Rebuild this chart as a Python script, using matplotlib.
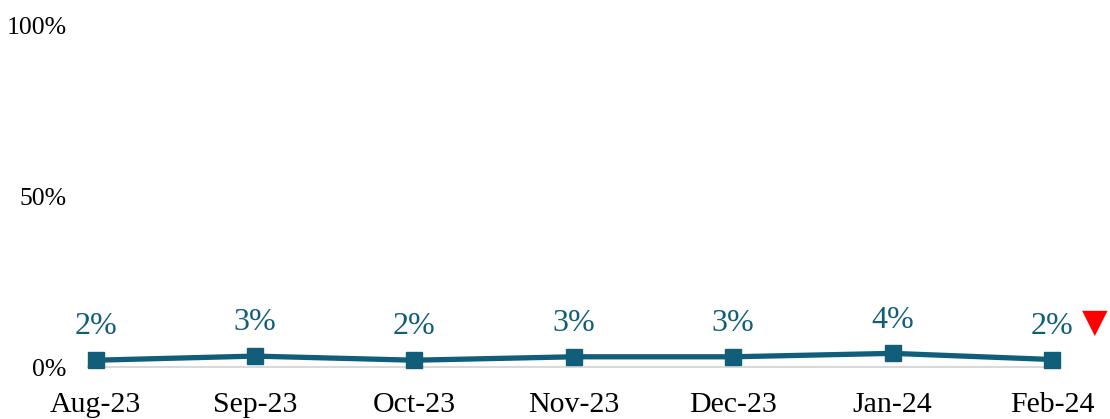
import matplotlib
matplotlib.use('Agg')
import matplotlib.pyplot as plt

# Data
months = ['Aug-23', 'Sep-23', 'Oct-23', 'Nov-23', 'Dec-23', 'Jan-24', 'Feb-24']
values = [0.02, 0.032, 0.02, 0.03, 0.03, 0.04, 0.022]
labels = ['2%', '3%', '2%', '3%', '3%', '4%', '2%']
y_ticks = [0, 0.5, 1.0]
y_tick_labels = ['0%', '50%', '100%']

teal = '#115E7A'

plt.rcParams['font.family'] = ['Liberation Serif', 'DejaVu Serif']

fig = plt.figure(figsize=(11.1, 4.19), dpi=100)
ax = fig.add_axes([0.079, 0.124, 0.876, 0.816])

x = list(range(len(months)))
ax.plot(x, values, color=teal, linewidth=3.8, marker='s', markersize=11, clip_on=False, zorder=3)

# data labels above each point
for xi, v, lab in zip(x, values, labels):
    ax.annotate(lab, xy=(xi, v), xytext=(0, 24), textcoords='offset points',
                ha='center', va='center', fontsize=23, color=teal)

# red down arrow next to the last value
ax.annotate('\u25BC', xy=(x[-1], values[-1]), xytext=(31, 27), textcoords='offset points',
            ha='center', va='center', fontsize=24, color='#FF0000', family='DejaVu Sans')

ax.set_xlim(-0.05, 6.05)
ax.set_ylim(0, 1)
ax.set_xticks(x)
ax.set_xticklabels(months, fontsize=21.5)
ax.set_yticks(y_ticks)
ax.set_yticklabels(y_tick_labels, fontsize=18.5)
ax.tick_params(axis='x', length=0, pad=18)
ax.tick_params(axis='y', length=0, pad=15)

for side in ['top', 'right', 'left']:
    ax.spines[side].set_visible(False)
ax.spines['bottom'].set_color('#D9D9D9')
ax.spines['bottom'].set_linewidth(1.5)

fig.savefig('out.png', dpi=100)
